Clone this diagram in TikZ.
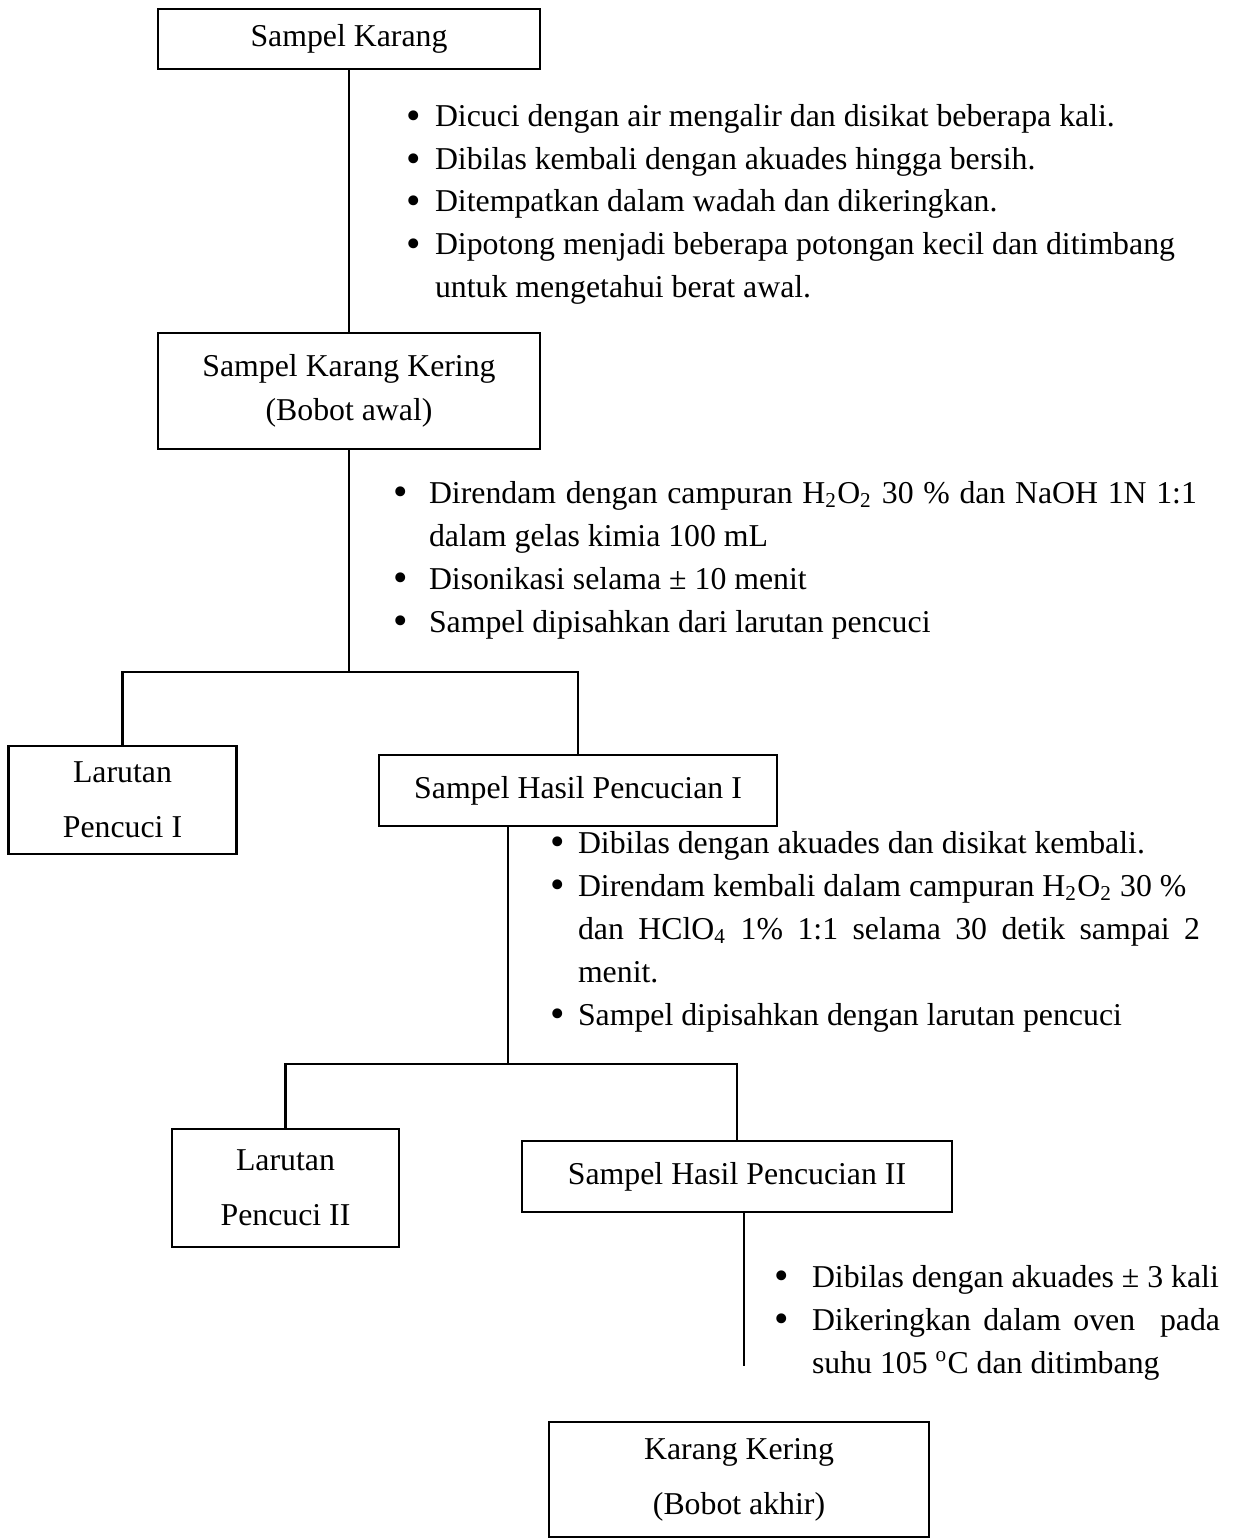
\documentclass[tikz,border=0pt]{standalone}
\usepackage{graphicx}
\usepackage{fontspec}
\setmainfont{Liberation Serif}
\newdimen\pxunit \pxunit=0.3774pt
\newcommand\bul[1]{\makebox[#1\pxunit][l]{\raisebox{-0.07em}{\scalebox{1.3}{\textbullet}}}}
\begin{document}
\begin{tikzpicture}[x=0.3774pt,y=-0.3774pt,
  every node/.style={inner sep=0pt, outer sep=0pt},
  box/.style 2 args={draw, line width=0.8pt, minimum width=#1*\pxunit, minimum height=#2*\pxunit, align=center, font=\fontsize{12pt}{16.6pt}\selectfont},
  boxb/.style 2 args={box={#1}{#2}, font=\fontsize{12pt}{20.75pt}\selectfont},
  txt/.style={anchor=base west, font=\fontsize{12pt}{14pt}\selectfont},
  conn/.style={line width=0.8pt}]
\useasboundingbox (0,0) rectangle (1241,1539);

% boxes
\node[box={382}{60}] (b1) at (349,39) {Sampel Karang};
\node[box={382}{116}] (b2) at (349,391) {Sampel Karang Kering\\(Bobot awal)};
\node[boxb={228}{108}] (l1) at (122.5,800) {Larutan\\Pencuci I};
\node[box={398}{71}] (s1) at (578,790.5) {Sampel Hasil Pencucian I};
\node[boxb={227}{118}] (l2) at (285.5,1188) {Larutan\\Pencuci II};
\node[box={430}{71}] (s2) at (737,1176.5) {Sampel Hasil Pencucian II};
\node[boxb={380}{115}] (kk) at (739,1479.5) {Karang Kering\\(Bobot akhir)};

% connectors
\coordinate (j1) at (349,672);
\coordinate (j2) at (508,1064);
\coordinate (e3) at (744,1366);
\draw[conn] (b1.south) -- (b2.north);
\draw[conn] (b2.south) -- (j1);
\draw[conn] (l1.north) |- (j1) -| (s1.north);
\draw[conn] (s1.south -| j2) -- (j2);
\draw[conn] (l2.north) |- (j2) -| (s2.north);
\draw[conn] (s2.south -| e3) -- (e3);

% list 1
\node[txt] (t1a) at (406.5,127) {\bul{28.5}Dicuci dengan air mengalir dan disikat beberapa kali.};
\node[txt] (t1b) at (406.5,170) {\bul{28.5}Dibilas kembali dengan akuades hingga bersih.};
\node[txt] (t1c) at (406.5,212) {\bul{28.5}Ditempatkan dalam wadah dan dikeringkan.};
\node[txt] (t1d) at (406.5,255) {\bul{28.5}Dipotong menjadi beberapa potongan kecil dan ditimbang};
\node[txt] (t1e) at (435,298) {untuk mengetahui berat awal.};

% list 2
\node[txt] (t2a) at (393.5,503) {\bul{35.5}\makebox[768\pxunit][s]{Direndam dengan campuran H\textsubscript{2}O\textsubscript{2} 30 \% dan NaOH 1N 1:1}};
\node[txt] (t2b) at (429,546) {dalam gelas kimia 100 mL};
\node[txt] (t2c) at (393.5,589) {\bul{35.5}Disonikasi selama ± 10 menit};
\node[txt] (t2d) at (393.5,632) {\bul{35.5}Sampel dipisahkan dari larutan pencuci};

% list 3
\node[txt] (t3a) at (550.5,853) {\bul{27.5}Dibilas dengan akuades dan disikat kembali.};
\node[txt] (t3b) at (550.5,896) {\bul{27.5}Direndam kembali dalam campuran H\textsubscript{2}O\textsubscript{2} 30 \%};
\node[txt] (t3c) at (578,939) {\makebox[622\pxunit][s]{dan HClO\textsubscript{4} 1\% 1:1 selama 30 detik sampai 2}};
\node[txt] (t3d) at (578,982) {menit.};
\node[txt] (t3e) at (550.5,1025) {\bul{27.5}Sampel dipisahkan dengan larutan pencuci};

% list 4
\node[txt] (t4a) at (774.5,1287) {\bul{37.5}Dibilas dengan akuades ± 3 kali};
\node[txt] (t4b) at (774.5,1330) {\bul{37.5}\makebox[408\pxunit][s]{Dikeringkan dalam oven\ \ pada}};
\node[txt] (t4c) at (812,1373) {suhu 105 \textsuperscript{o}C dan ditimbang};
\end{tikzpicture}
\end{document}
